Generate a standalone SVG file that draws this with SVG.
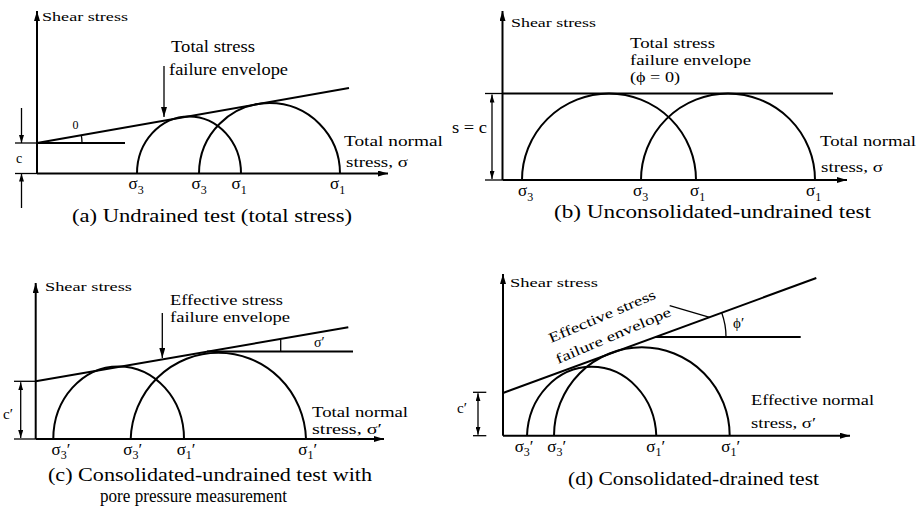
<svg xmlns="http://www.w3.org/2000/svg" width="918" height="518" viewBox="0 0 918 518">
<defs>
<marker id="arr" viewBox="0 0 10 6" refX="10" refY="3" markerWidth="10" markerHeight="6" markerUnits="userSpaceOnUse" orient="auto"><path d="M0,0 L10,3 L0,6 z" fill="#000"/></marker>
<marker id="arrs" viewBox="0 0 8 5" refX="8" refY="2.5" markerWidth="8" markerHeight="5" markerUnits="userSpaceOnUse" orient="auto"><path d="M0,0 L8,2.5 L0,5 z" fill="#000"/></marker>
</defs>
<style>
.ax{stroke:#000;stroke-width:2;fill:none;marker-end:url(#arr)}
.ln{stroke:#000;stroke-width:2;fill:none}
.th{stroke:#000;stroke-width:1.3;fill:none}
.dim{stroke:#000;stroke-width:1.3;fill:none;marker-end:url(#arrs)}
.ptr{stroke:#000;stroke-width:1.3;fill:none;marker-end:url(#arr)}
text{font-family:"Liberation Serif","Times New Roman",serif;fill:#000}
.ss{font-size:13px}
.lb{font-size:16px}
.lbs{font-size:14px}
.cap{font-size:18px}
.sg{font-size:17px}
.sub{font-size:12px}
</style>
<rect width="918" height="518" fill="#fff"/>

<g id="panel-a">
<line class="ax" x1="37" y1="173.5" x2="37" y2="11"/>
<line class="ax" x1="37" y1="173.5" x2="388" y2="173.5"/>
<text class="ss" x="42" y="21" textLength="86" lengthAdjust="spacingAndGlyphs">Shear stress</text>
<line class="ln" x1="37" y1="143" x2="349" y2="88"/>
<line class="ln" x1="37" y1="143" x2="125" y2="143"/>
<path class="th" d="M82,143 A45,45 0 0,0 81.3,135.2"/>
<text x="72.5" y="128.5" font-size="12">0</text>
<path class="ln" d="M137,173.5 A52,57 0 0,1 241,173.5"/>
<path class="ln" d="M199,173.5 A70.5,70.5 0 0,1 340,173.5"/>
<line class="ptr" x1="164" y1="66" x2="164" y2="117"/>
<text class="lb" x="171" y="52" textLength="84" lengthAdjust="spacingAndGlyphs">Total stress</text>
<text class="lb" x="169" y="75" textLength="119" lengthAdjust="spacingAndGlyphs">failure envelope</text>
<line class="th" x1="15" y1="143" x2="37" y2="143"/>
<line class="th" x1="15" y1="173.5" x2="37" y2="173.5"/>
<line class="dim" x1="21.5" y1="108" x2="21.5" y2="143"/>
<line class="dim" x1="21.5" y1="208" x2="21.5" y2="173.5"/>
<text x="16" y="162.5" font-size="14">c</text>
<text class="sg" x="128.5" y="189">σ<tspan class="sub" dy="5">3</tspan></text>
<text class="sg" x="191.5" y="189">σ<tspan class="sub" dy="5">3</tspan></text>
<text class="sg" x="231.5" y="189">σ<tspan class="sub" dy="5">1</tspan></text>
<text class="sg" x="330" y="189">σ<tspan class="sub" dy="5">1</tspan></text>
<text class="lbs" x="344" y="146" textLength="99" lengthAdjust="spacingAndGlyphs">Total normal</text>
<text class="lbs" x="346" y="167" textLength="62" lengthAdjust="spacingAndGlyphs">stress, σ</text>
<text class="cap" x="72" y="222" textLength="280" lengthAdjust="spacingAndGlyphs">(a) Undrained test (total stress)</text>
</g>

<g id="panel-b">
<line class="ax" x1="502.5" y1="180" x2="502.5" y2="11"/>
<line class="ax" x1="502.5" y1="180" x2="847" y2="180"/>
<text class="ss" x="511" y="27" textLength="85" lengthAdjust="spacingAndGlyphs">Shear stress</text>
<text class="lbs" x="630" y="48" textLength="85" lengthAdjust="spacingAndGlyphs">Total stress</text>
<text class="lbs" x="630" y="64.5" textLength="121" lengthAdjust="spacingAndGlyphs">failure envelope</text>
<text class="lbs" x="630" y="81.5" textLength="50" lengthAdjust="spacingAndGlyphs">(ϕ = 0)</text>
<line class="ln" x1="502.5" y1="93.5" x2="833" y2="93.5"/>
<path class="ln" d="M522,180 A87,86.5 0 0,1 696,180"/>
<path class="ln" d="M641,180 A87,86.5 0 0,1 815,180"/>
<line class="th" x1="485" y1="93.5" x2="502.5" y2="93.5"/>
<line class="th" x1="485" y1="180" x2="502.5" y2="180"/>
<line class="dim" x1="492" y1="136" x2="492" y2="94.5"/>
<line class="dim" x1="492" y1="136" x2="492" y2="179"/>
<text x="452" y="133" font-size="16" textLength="35" lengthAdjust="spacingAndGlyphs">s = c</text>
<text class="sg" x="518" y="195.5">σ<tspan class="sub" dy="5">3</tspan></text>
<text class="sg" x="633" y="195.5">σ<tspan class="sub" dy="5">3</tspan></text>
<text class="sg" x="690" y="195.5">σ<tspan class="sub" dy="5">1</tspan></text>
<text class="sg" x="806" y="195.5">σ<tspan class="sub" dy="5">1</tspan></text>
<text class="lbs" x="820" y="146" textLength="96" lengthAdjust="spacingAndGlyphs">Total normal</text>
<text class="lbs" x="821" y="172" textLength="62" lengthAdjust="spacingAndGlyphs">stress, σ</text>
<text class="cap" x="554" y="218" textLength="317" lengthAdjust="spacingAndGlyphs">(b) Unconsolidated-undrained test</text>
</g>

<g id="panel-c">
<line class="ax" x1="35.7" y1="439" x2="35.7" y2="283"/>
<line class="ax" x1="35.7" y1="439" x2="384" y2="439"/>
<text class="ss" x="45" y="291" textLength="87" lengthAdjust="spacingAndGlyphs">Shear stress</text>
<text class="lbs" x="170" y="305" textLength="113" lengthAdjust="spacingAndGlyphs">Effective stress</text>
<text class="lbs" x="170" y="322" textLength="120" lengthAdjust="spacingAndGlyphs">failure envelope</text>
<line class="ptr" x1="162.3" y1="313" x2="162.3" y2="358"/>
<line class="ln" x1="35.7" y1="381.3" x2="348.3" y2="327.3"/>
<line class="ln" x1="207" y1="351.5" x2="353" y2="351.5"/>
<line class="th" x1="280.7" y1="351.5" x2="280.7" y2="339.5"/>
<text x="314" y="347" font-size="14">σ′</text>
<path class="ln" d="M53.3,439 A65.3,72.5 0 0,1 184,439"/>
<path class="ln" d="M130.7,439 A87.7,89.3 0 0,1 306,439"/>
<line class="th" x1="14" y1="381.3" x2="35.7" y2="381.3"/>
<line class="th" x1="14" y1="439" x2="35.7" y2="439"/>
<line class="dim" x1="20.7" y1="410" x2="20.7" y2="382.3"/>
<line class="dim" x1="20.7" y1="410" x2="20.7" y2="438"/>
<text x="3" y="419" font-size="15">c′</text>
<text class="sg" x="51.5" y="455">σ<tspan class="sub" dy="4">3</tspan><tspan dy="-4">′</tspan></text>
<text class="sg" x="123.3" y="455">σ<tspan class="sub" dy="4">3</tspan><tspan dy="-4">′</tspan></text>
<text class="sg" x="176.7" y="455">σ<tspan class="sub" dy="4">1</tspan><tspan dy="-4">′</tspan></text>
<text class="sg" x="298.3" y="455">σ<tspan class="sub" dy="4">1</tspan><tspan dy="-4">′</tspan></text>
<text class="lbs" x="312" y="417" textLength="96" lengthAdjust="spacingAndGlyphs">Total normal</text>
<text class="lbs" x="312" y="433.5" textLength="70" lengthAdjust="spacingAndGlyphs">stress, σ′</text>
<text class="cap" x="48" y="481" textLength="324" lengthAdjust="spacingAndGlyphs">(c) Consolidated-undrained test with</text>
<text class="cap" x="100" y="502" textLength="187" lengthAdjust="spacingAndGlyphs">pore pressure measurement</text>
</g>

<g id="panel-d">
<line class="ax" x1="503" y1="435.7" x2="503" y2="274"/>
<line class="ax" x1="503" y1="435.7" x2="850" y2="435.7"/>
<text class="ss" x="510" y="287" textLength="88" lengthAdjust="spacingAndGlyphs">Shear stress</text>
<line class="ln" x1="503" y1="393" x2="816.3" y2="278"/>
<line class="ln" x1="655.6" y1="337" x2="800.7" y2="337"/>
<path class="th" d="M726,337 A70.4,70.4 0 0,0 721.7,312.7"/>
<text x="733" y="328" font-size="15">ϕ′</text>
<line class="th" x1="669.7" y1="305.7" x2="709.7" y2="317.3"/>
<text class="lbs" transform="translate(551,343) rotate(-23)" textLength="115" lengthAdjust="spacingAndGlyphs">Effective stress</text>
<text class="lbs" transform="translate(558,364) rotate(-23)" textLength="124" lengthAdjust="spacingAndGlyphs">failure envelope</text>
<path class="ln" d="M527,435.7 A64.7,71.7 0 0,1 656.3,435.7"/>
<path class="ln" d="M554,435.7 A87.8,88.4 0 0,1 729.7,435.7"/>
<line class="th" x1="473" y1="392.3" x2="486.3" y2="392.3"/>
<line class="th" x1="473" y1="435.7" x2="486.3" y2="435.7"/>
<line class="dim" x1="478" y1="414" x2="478" y2="393.3"/>
<line class="dim" x1="478" y1="414" x2="478" y2="434.7"/>
<text x="457" y="413" font-size="15">c′</text>
<text class="sg" x="514.7" y="452">σ<tspan class="sub" dy="4">3</tspan><tspan dy="-4">′</tspan></text>
<text class="sg" x="547.3" y="452">σ<tspan class="sub" dy="4">3</tspan><tspan dy="-4">′</tspan></text>
<text class="sg" x="646.3" y="452">σ<tspan class="sub" dy="4">1</tspan><tspan dy="-4">′</tspan></text>
<text class="sg" x="721.3" y="452">σ<tspan class="sub" dy="4">1</tspan><tspan dy="-4">′</tspan></text>
<text class="lbs" x="751" y="405" textLength="123" lengthAdjust="spacingAndGlyphs">Effective normal</text>
<text class="lbs" x="751" y="428" textLength="65" lengthAdjust="spacingAndGlyphs">stress, σ′</text>
<text class="cap" x="568" y="485" textLength="251" lengthAdjust="spacingAndGlyphs">(d) Consolidated-drained test</text>
</g>
</svg>
